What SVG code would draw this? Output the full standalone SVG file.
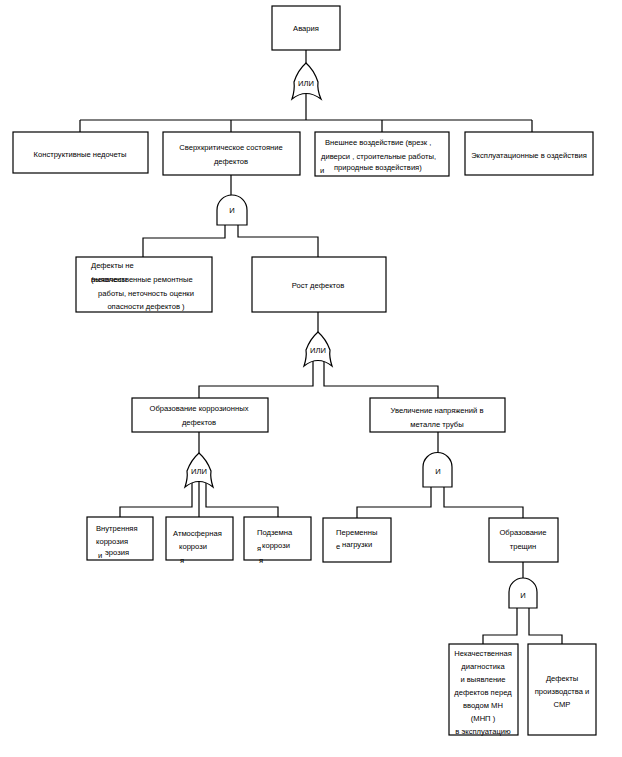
<svg xmlns="http://www.w3.org/2000/svg" width="622" height="757" viewBox="0 0 622 757">
<style>
.box{fill:#fff;stroke:#000;stroke-width:1.2}
.gate{fill:#fff;stroke:#000;stroke-width:1.2}
.ln{fill:none;stroke:#000;stroke-width:1.2}
text{font-family:"Liberation Sans",Arial,sans-serif;font-size:7.6px;fill:#000}
.c{text-anchor:middle}
</style>
<rect width="622" height="757" fill="#fff"/>
<g id="connectors">
<path class="ln" d="M306,50 V66 M306,94 V120 M80,120 H532 M80,120 V132 M231,120 V132 M382,120 V132 M532,120 V132"/>
<path class="ln" d="M231,175 V196 M225,225 V238 H143 V257 M238,225 V237 H318 V257"/>
<path class="ln" d="M318,312 V334 M313,360 V386 H199 V398 M324,360 V386 H438 V398"/>
<path class="ln" d="M199,432 V455 M192,482 V507 H120 V517 M199,482 V517 M206,482 V507 H278 V517"/>
<path class="ln" d="M438,432 V453 M431,487 V507 H357 V518 M444,487 V507 H523 V518"/>
<path class="ln" d="M523,562 V579 M517,608 V635 H483 V644 M529,608 V635 H562 V644"/>
</g>
<g id="n_avaria"><rect class="box" x="272" y="6" width="68" height="44"/><text class="c" x="306" y="31">Авария</text></g>
<g id="g_or1"><path class="gate" d="M292,99 Q295,90 294,82 Q298,70 306,63 Q314,70 318,82 Q317,90 321,99 Q306,88 292,99 Z"/><text class="c" x="306" y="86">ИЛИ</text></g>
<g id="n_konstr"><rect class="box" x="13" y="132" width="135" height="41"/><text class="c" x="80" y="157">Конструктивные недочеты</text></g>
<g id="n_sverh"><rect class="box" x="163" y="132" width="137" height="43"/><text class="c" x="231" y="150">Сверхкритическое состояние</text><text class="c" x="231" y="164">дефектов</text></g>
<g id="n_vnesh"><rect class="box" x="315" y="132" width="134" height="44"/><text x="325" y="145">Внешнее воздействие  (врезк  ,</text><text x="321" y="159">диверси  , строительные работы,</text><text x="320" y="173">и</text><text x="334" y="170">природные воздействия)</text></g>
<g id="n_ekspl"><rect class="box" x="465" y="132" width="128" height="43"/><text class="c" x="529" y="158">Эксплуатационные в оздействия</text></g>
<g id="g_and1"><path class="gate" d="M217,225 V210 A15,15 0 0 1 247,210 V225 Z"/><text class="c" x="232" y="213">И</text></g>
<g id="n_defne"><rect class="box" x="76" y="257" width="136" height="55"/><text x="91" y="268">Дефекты не</text><text x="91" y="282">(некачественные ремонтные</text><text x="91" y="282">выявлены</text><text class="c" x="146" y="296">работы, неточность оценки</text><text class="c" x="146" y="309">опасности дефектов )</text></g>
<g id="n_rost"><rect class="box" x="252" y="257" width="134" height="55"/><text class="c" x="318" y="288">Рост дефектов</text></g>
<g id="g_or2"><path class="gate" d="M304,366 Q307,357 306,350 Q310,339 318,332 Q326,339 330,350 Q329,357 332,366 Q318,355 304,366 Z"/><text class="c" x="318" y="353">ИЛИ</text></g>
<g id="n_korr"><rect class="box" x="132" y="398" width="136" height="34"/><text class="c" x="199" y="411">Образование коррозионных</text><text class="c" x="199" y="425">дефектов</text></g>
<g id="n_napr"><rect class="box" x="370" y="398" width="135" height="34"/><text class="c" x="437" y="413">Увеличение напряжений в</text><text class="c" x="437" y="427">металле трубы</text></g>
<g id="g_or3"><path class="gate" d="M185,487 Q188,478 187,471 Q191,460 199,453 Q207,460 211,471 Q210,478 213,487 Q199,476 185,487 Z"/><text class="c" x="199" y="474">ИЛИ</text></g>
<g id="g_and2"><path class="gate" d="M423,487 V467 A14.5,14.5 0 0 1 452,467 V487 Z"/><text class="c" x="438" y="474">И</text></g>
<g id="n_vnutr"><rect class="box" x="87" y="517" width="66" height="43"/><text x="96" y="531">Внутренняя</text><text x="96" y="544">коррозия</text><text x="98" y="558">и</text><text x="105" y="555">эрозия</text></g>
<g id="n_atm"><rect class="box" x="166" y="517" width="67" height="43"/><text x="173" y="536">Атмосферная</text><text x="179" y="549">коррози</text><text x="180" y="563">я</text></g>
<g id="n_podz"><rect class="box" x="244" y="517" width="67" height="43"/><text x="257" y="535">Подземна</text><text x="257" y="551">я</text><text x="262" y="548">коррози</text><text x="259" y="563">я</text></g>
<g id="n_perem"><rect class="box" x="323" y="518" width="68" height="44"/><text x="336" y="535">Переменны</text><text x="336" y="549">е</text><text x="342" y="547">нагрузки</text></g>
<g id="n_tresh"><rect class="box" x="489" y="518" width="69" height="44"/><text class="c" x="523" y="535">Образование</text><text class="c" x="523" y="549">трещин</text></g>
<g id="g_and3"><path class="gate" d="M509,608 V592 A14,14 0 0 1 537,592 V608 Z"/><text class="c" x="523" y="598">И</text></g>
<g id="n_nekach"><rect class="box" x="449" y="644" width="69" height="91"/><text class="c" x="483" y="656">Некачественная</text><text class="c" x="483" y="669">диагностика</text><text class="c" x="483" y="682">и выявление</text><text class="c" x="483" y="695">дефектов перед</text><text class="c" x="483" y="708">вводом МН</text><text class="c" x="483" y="721">(МНП    )</text><text class="c" x="483" y="734">в эксплуатацию</text></g>
<g id="n_smr"><rect class="box" x="528" y="644" width="68" height="91"/><text class="c" x="562" y="681">Дефекты</text><text class="c" x="562" y="694">производства и</text><text class="c" x="562" y="707">СМР</text></g>
</svg>
